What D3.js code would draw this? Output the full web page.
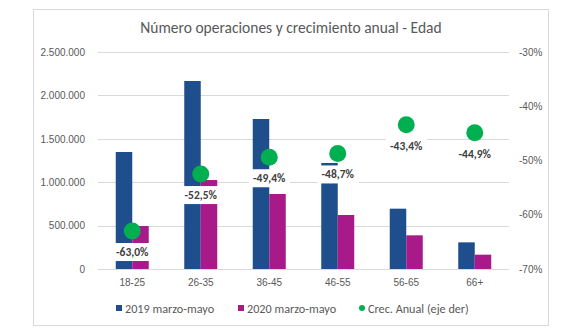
<!DOCTYPE html>
<html>
<head>
<meta charset="utf-8">
<script src="https://cdn.jsdelivr.net/npm/d3@7"></script>
<style>
  html, body { margin: 0; padding: 0; background: #fff; }
  svg { display: block; font-family: Carlito, Lato, "Open Sans", sans-serif; }
</style>
</head>
<body>
<svg id="chart" width="579" height="335"></svg>
<script>
// Age groups and operation counts per period
const categories = ["18-25", "26-35", "36-45", "46-55", "56-65", "66+"];
const ops2019 = [1348000, 2166000, 1728000, 1221000, 695000, 307000];
const ops2020 = [495000, 1025000, 864000, 622000, 388000, 165000];
// Year-on-year change, percent (right axis)
const growth = [-63.0, -52.5, -49.4, -48.7, -43.4, -44.9];
const leftTicks = [0, 500000, 1000000, 1500000, 2000000, 2500000];
const rightTicks = [-70, -60, -50, -40, -30];
const seriesNames = ["2019 marzo-mayo", "2020 marzo-mayo", "Crec. Anual (eje der)"];

const colors = { y2019: "#1F4E8C", y2020: "#A8198A", growth: "#00B050" };
const svg = d3.select("#chart");

const plot = { left: 98, right: 509, top: 52, bottom: 269 };

const x = d3.scaleBand().domain(categories).range([plot.left, plot.right]).paddingInner(0).paddingOuter(0);
const yL = d3.scaleLinear().domain([0, 2500000]).range([plot.bottom, plot.top]);
const yR = d3.scaleLinear().domain([-70, -30]).range([plot.bottom, plot.top]);

const esLocale = d3.formatLocale({ decimal: ",", thousands: ".", grouping: [3], currency: ["", "€"], minus: "-" });
const fmtLeft = esLocale.format(",.0f");
const fmtPctInt = esLocale.format(".0f");
const fmtPct = v => fmtPctInt(v) + "%";
const fmtLabel = v => esLocale.format(".1f")(v) + "%";

// Chart frame
svg.append("rect").attr("x", 33.5).attr("y", 9.5).attr("width", 515).attr("height", 316)
  .attr("fill", "#fff").attr("stroke", "#D9D9D9").attr("stroke-width", 1);

// Title
svg.append("text").attr("x", 291).attr("y", 33).attr("text-anchor", "middle")
  .attr("fill", "#595959").style("font-size", "15.5px")
  .text("Número operaciones y crecimiento anual - Edad");

// Gridlines
svg.append("g").selectAll("line").data(leftTicks).join("line")
  .attr("x1", plot.left).attr("x2", plot.right)
  .attr("y1", d => Math.round(yL(d)) + 0.5).attr("y2", d => Math.round(yL(d)) + 0.5)
  .attr("stroke", "#D9D9D9").attr("stroke-width", 1);

// Left axis
const axisL = svg.append("g").attr("transform", `translate(${plot.left - 8},0)`)
  .call(d3.axisLeft(yL).tickValues(leftTicks).tickFormat(fmtLeft).tickSize(0).tickPadding(5));
axisL.select(".domain").remove();
axisL.selectAll("text").attr("fill", "#595959").style("font-size", "10px").style("font-family", null);

// Right axis
const axisR = svg.append("g").attr("transform", `translate(${plot.right + 5},0)`)
  .call(d3.axisRight(yR).tickValues(rightTicks).tickFormat(fmtPct).tickSize(0).tickPadding(5));
axisR.select(".domain").remove();
axisR.selectAll("text").attr("fill", "#595959").style("font-size", "10px").style("font-family", null);

// Category axis
const axisB = svg.append("g").attr("transform", `translate(0,${plot.bottom})`)
  .call(d3.axisBottom(x).tickSize(0).tickPadding(10));
axisB.select(".domain").remove();
axisB.selectAll("text").attr("fill", "#595959").style("font-size", "10px").style("font-family", null);

// Bars
const barW = 16.5;
const bars = svg.append("g");
bars.selectAll("rect.b19").data(categories).join("rect").attr("class", "b19")
  .attr("x", d => x(d) + x.bandwidth() / 2 - barW)
  .attr("width", barW)
  .attr("y", (d, i) => yL(ops2019[i]))
  .attr("height", (d, i) => yL(0) - yL(ops2019[i]))
  .attr("fill", colors.y2019);
bars.selectAll("rect.b20").data(categories).join("rect").attr("class", "b20")
  .attr("x", d => x(d) + x.bandwidth() / 2)
  .attr("width", barW)
  .attr("y", (d, i) => yL(ops2020[i]))
  .attr("height", (d, i) => yL(0) - yL(ops2020[i]))
  .attr("fill", colors.y2020);

// Growth markers
const cx = d => x(d) + x.bandwidth() / 2;
svg.append("g").selectAll("circle").data(categories).join("circle")
  .attr("cx", cx).attr("cy", (d, i) => yR(growth[i])).attr("r", 8.5)
  .attr("fill", colors.growth);

// Value labels with white backing
const labels = svg.append("g");
categories.forEach((c, i) => {
  const g = labels.append("g");
  const t = g.append("text").attr("x", cx(c)).attr("y", yR(growth[i]) + 21)
    .attr("text-anchor", "middle").attr("dominant-baseline", "central")
    .attr("fill", "#404040").style("font-size", "11.5px").style("font-weight", "bold")
    .text(fmtLabel(growth[i]));
  const bb = t.node().getBBox();
  g.insert("rect", "text").attr("x", bb.x - 4).attr("y", yR(growth[i]) + 12)
    .attr("width", bb.width + 8).attr("height", 18).attr("fill", "#fff");
});

// Legend
const legendItems = [
  { name: seriesNames[0], color: colors.y2019, shape: "square", x: 116 },
  { name: seriesNames[1], color: colors.y2020, shape: "square", x: 238 },
  { name: seriesNames[2], color: colors.growth, shape: "circle", x: 359 }
];
const lg = svg.append("g");
legendItems.forEach(it => {
  if (it.shape === "square") {
    lg.append("rect").attr("x", it.x).attr("y", 305).attr("width", 6).attr("height", 6).attr("fill", it.color);
  } else {
    lg.append("circle").attr("cx", it.x + 3).attr("cy", 308).attr("r", 3).attr("fill", it.color);
  }
  lg.append("text").attr("x", it.x + 9).attr("y", 308).attr("dominant-baseline", "central")
    .attr("fill", "#595959").style("font-size", "12.2px").text(it.name);
});
</script>
</body>
</html>
